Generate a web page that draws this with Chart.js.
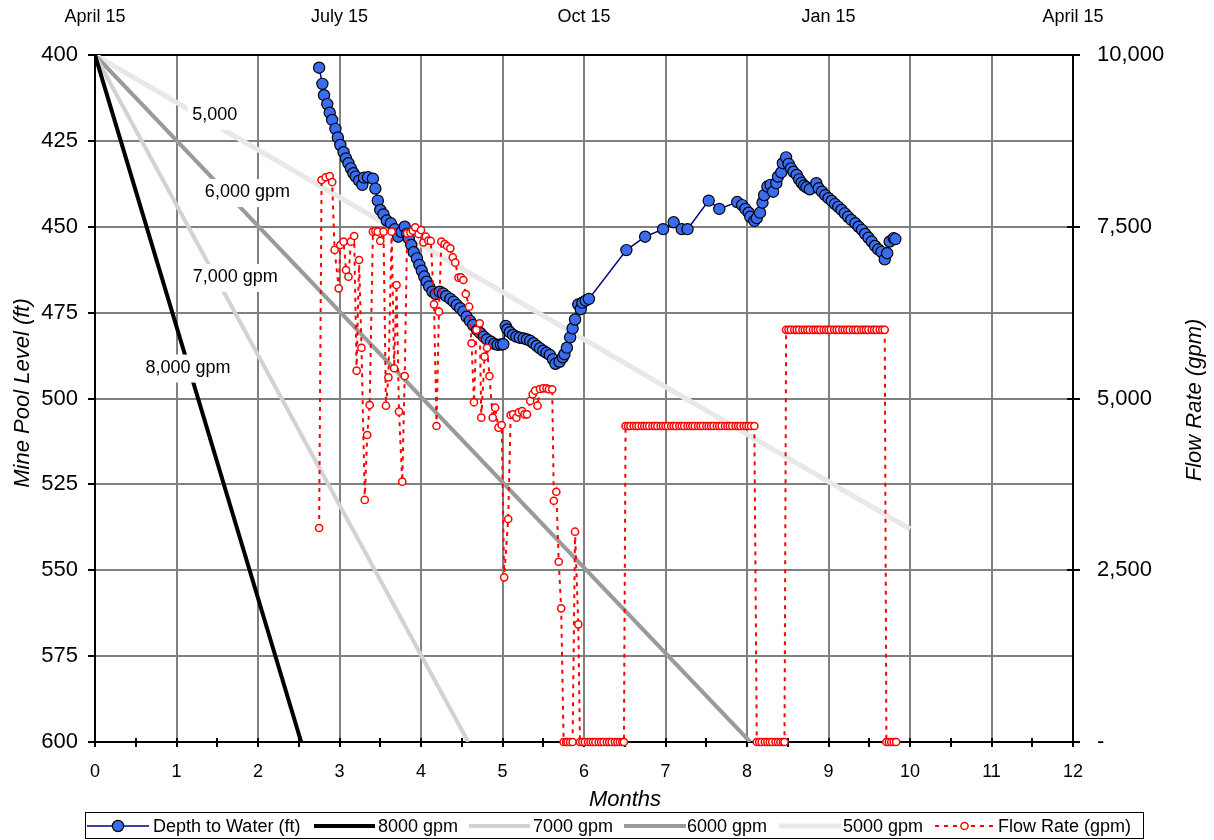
<!DOCTYPE html>
<html>
<head>
<meta charset="utf-8">
<script src="https://cdn.jsdelivr.net/npm/chart.js@4"></script>
<style>
  html, body { margin: 0; padding: 0; background: #fff; }
  canvas { display: block; }
</style>
</head>
<body>
<canvas id="chart" width="1214" height="840"></canvas>
<script>
// ---- Data ----------------------------------------------------------------
// Mine pool level readings: months since April 15, depth (ft)
const depthMonths = [
  2.75, 2.79, 2.81, 2.85, 2.88, 2.91, 2.95, 2.98, 3.01, 3.05,
  3.08, 3.11, 3.14, 3.17, 3.20, 3.24, 3.28, 3.30, 3.35, 3.41,
  3.44, 3.47, 3.50, 3.54, 3.58, 3.63, 3.68, 3.72, 3.76, 3.80,
  3.83, 3.85, 3.88, 3.91, 3.95, 3.98, 4.01, 4.04, 4.07, 4.10,
  4.14, 4.18, 4.23, 4.27, 4.31, 4.36, 4.40, 4.44, 4.48, 4.52,
  4.56, 4.60, 4.64, 4.69, 4.73, 4.77, 4.81, 4.86, 4.90, 4.94,
  4.98, 5.01, 5.04, 5.06, 5.09, 5.13, 5.17, 5.21, 5.26, 5.30,
  5.34, 5.38, 5.42, 5.46, 5.50, 5.54, 5.58, 5.62, 5.65, 5.70,
  5.74, 5.76, 5.79, 5.83, 5.86, 5.89, 5.93, 5.96, 5.98, 6.02,
  6.06, 6.52, 6.75, 6.97, 7.10, 7.20, 7.27, 7.53, 7.66, 7.88,
  7.94, 7.98, 8.02, 8.04, 8.09, 8.12, 8.16, 8.19, 8.21, 8.25,
  8.29, 8.32, 8.36, 8.38, 8.42, 8.44, 8.48, 8.51, 8.54, 8.57,
  8.61, 8.64, 8.67, 8.70, 8.73, 8.77, 8.85, 8.88, 8.92, 8.96,
  9.00, 9.04, 9.08, 9.12, 9.16, 9.20, 9.24, 9.28, 9.33, 9.37,
  9.41, 9.45, 9.49, 9.53, 9.57, 9.61, 9.65, 9.69, 9.72, 9.75,
  9.80, 9.82
];
const depthLevels = [
  403.7, 408.4, 411.7, 414.3, 416.8, 418.9, 421.5, 424.0, 426.2, 428.3,
  430.1, 431.5, 433.0, 434.4, 435.4, 436.6, 437.8, 435.7, 435.6, 436.0,
  438.9, 442.4, 445.1, 446.4, 448.2, 449.0, 450.7, 452.9, 451.5, 450.0,
  452.0, 453.4, 455.3, 457.4, 459.2, 461.1, 462.8, 464.5, 466.0, 467.4,
  468.9, 469.6, 468.9, 469.4, 470.2, 471.0, 471.8, 472.8, 473.7, 474.7,
  476.2, 477.4, 478.6, 480.1, 481.0, 482.0, 482.8, 483.5, 484.1, 484.4,
  484.3, 484.2, 478.9, 479.9, 480.7, 481.5, 482.0, 482.3, 482.5, 482.8,
  483.2, 483.9, 484.7, 485.4, 486.1, 486.7, 487.3, 488.6, 489.9, 489.3,
  488.0, 487.1, 485.2, 482.2, 479.6, 477.0, 472.6, 474.0, 472.1, 471.5,
  471.0, 456.8, 452.9, 450.7, 448.7, 450.7, 450.7, 442.4, 444.8, 442.8,
  443.7, 444.8, 445.9, 447.1, 448.3, 447.5, 445.9, 443.0, 440.8, 438.3,
  437.8, 439.8, 437.3, 435.4, 434.2, 431.5, 429.8, 431.7, 433.0, 434.0,
  434.9, 436.2, 437.2, 438.0, 438.5, 439.1, 437.3, 438.8, 439.8, 440.8,
  441.7, 442.5, 443.4, 444.2, 445.1, 446.1, 447.1, 448.0, 449.0, 450.0,
  450.9, 452.1, 453.2, 454.3, 455.6, 456.6, 457.3, 459.5, 457.7, 454.3,
  453.3, 453.6
];

// Pumping rate readings: months since April 15, flow (gpm)
const flowMonths = [
  2.75, 2.78, 2.83, 2.88, 2.91, 2.94, 2.99, 3.01, 3.05, 3.08,
  3.11, 3.14, 3.18, 3.21, 3.24, 3.27, 3.31, 3.34, 3.37, 3.41,
  3.44, 3.47, 3.50, 3.54, 3.57, 3.60, 3.64, 3.67, 3.70, 3.73,
  3.77, 3.80, 3.83, 3.87, 3.90, 3.93, 3.97, 4.00, 4.03, 4.06,
  4.09, 4.12, 4.16, 4.19, 4.22, 4.25, 4.29, 4.32, 4.36, 4.39,
  4.42, 4.46, 4.49, 4.52, 4.55, 4.59, 4.62, 4.65, 4.68, 4.72,
  4.74, 4.78, 4.81, 4.84, 4.88, 4.91, 4.95, 4.99, 5.02, 5.07,
  5.10, 5.13, 5.17, 5.20, 5.24, 5.27, 5.30, 5.34, 5.37, 5.40,
  5.43, 5.46, 5.50, 5.54, 5.57, 5.61, 5.63, 5.66, 5.69, 5.72,
  5.75, 5.78, 5.80, 5.83, 5.86, 5.89, 5.93, 5.95, 5.98, 6.01,
  6.05, 6.08, 6.11, 6.14, 6.18, 6.21, 6.24, 6.28, 6.31, 6.34,
  6.38, 6.41, 6.44, 6.47, 6.49, 6.51, 6.54, 6.57, 6.61, 6.64,
  6.67, 6.71, 6.74, 6.77, 6.80, 6.84, 6.87, 6.90, 6.94, 6.97,
  7.00, 7.03, 7.07, 7.10, 7.13, 7.17, 7.20, 7.23, 7.27, 7.30,
  7.33, 7.36, 7.40, 7.43, 7.46, 7.50, 7.53, 7.56, 7.59, 7.63,
  7.66, 7.69, 7.73, 7.76, 7.79, 7.82, 7.86, 7.89, 7.92, 7.96,
  7.99, 8.02, 8.05, 8.09, 8.12, 8.15, 8.18, 8.22, 8.25, 8.28,
  8.31, 8.35, 8.38, 8.41, 8.44, 8.46, 8.48, 8.51, 8.54, 8.58,
  8.61, 8.64, 8.68, 8.71, 8.74, 8.77, 8.81, 8.84, 8.87, 8.90,
  8.94, 8.97, 9.00, 9.03, 9.07, 9.10, 9.13, 9.17, 9.20, 9.23,
  9.26, 9.30, 9.33, 9.36, 9.40, 9.43, 9.46, 9.49, 9.53, 9.56,
  9.59, 9.63, 9.66, 9.69, 9.71, 9.74, 9.77, 9.80, 9.83
];
const flowRates = [
  3115, 8180, 8219, 8238, 8151, 7162, 6604, 7234, 7283, 6870,
  6773, 7283, 7365, 5405, 7016, 5739, 3523, 4469, 4905, 7428,
  7438, 7428, 7293, 7428, 4895, 5308, 7428, 5440, 6652, 4808,
  3789, 5327, 7404, 7414, 7443, 7492, 7394, 7452, 7273, 7355,
  7297, 7293, 6371, 4600, 6264, 7283, 7249, 7220, 7186, 7055,
  6977, 6759, 6764, 6725, 6521, 6336, 5804, 4945, 6000, 6094,
  4721, 5609, 5739, 5327, 4721, 4866, 4576, 4614, 2397, 3246,
  4760, 4770, 4721, 4799, 4818, 4770, 4770, 4964, 5061, 5114,
  4895, 5138, 5148, 5148, 5134, 5134, 3512, 3643, 2624, 1946,
  0, 0, 0, 0, 0, 3061, 1713, 0, 0, 0,
  0, 0, 0, 0, 0, 0, 0, 0, 0, 0,
  0, 0, 0, 0, 0, 4600, 4600, 4600, 4600, 4600,
  4600, 4600, 4600, 4600, 4600, 4600, 4600, 4600, 4600, 4600,
  4600, 4600, 4600, 4600, 4600, 4600, 4600, 4600, 4600, 4600,
  4600, 4600, 4600, 4600, 4600, 4600, 4600, 4600, 4600, 4600,
  4600, 4600, 4600, 4600, 4600, 4600, 4600, 4600, 4600, 4600,
  4600, 4600, 4600, 4600, 0, 0, 0, 0, 0, 0,
  0, 0, 0, 0, 0, 0, 6000, 6000, 6000, 6000,
  6000, 6000, 6000, 6000, 6000, 6000, 6000, 6000, 6000, 6000,
  6000, 6000, 6000, 6000, 6000, 6000, 6000, 6000, 6000, 6000,
  6000, 6000, 6000, 6000, 6000, 6000, 6000, 6000, 6000, 6000,
  6000, 6000, 6000, 6000, 0, 0, 0, 0, 0
];

// Drawdown reference lines at constant pumping rates (start and end points)
const rateNames      = ['8000 gpm', '7000 gpm', '6000 gpm', '5000 gpm'];
const rateNotes      = ['8,000 gpm', '7,000 gpm', '6,000 gpm', '5,000'];
const rateStartMonth = 0;
const rateStartLevel = 400;
const rateEndMonths  = [2.53, 4.58, 8.04, 10.0];
const rateEndLevels  = [600, 600, 600, 538];

// Axis labels
const monthTicks   = [0, 1, 2, 3, 4, 5, 6, 7, 8, 9, 10, 11, 12];
const seasonLabels = ['April 15', 'July 15', 'Oct 15', 'Jan 15', 'April 15'];
const levelTicks   = [400, 425, 450, 475, 500, 525, 550, 575, 600];
const flowTicks    = [0, 2500, 5000, 7500, 10000];

// ---- Styling -----------------------------------------------------------
const FONT = "'Liberation Sans', Arial, Helvetica, sans-serif";
const rateColors = ['#000000', '#d2d2d2', '#9a9a9a', '#e8e8e8'];
const rateWidths = [4, 4, 4, 5];
const depthFill = '#3a6cf0';
const depthLine = '#000080';
const flowRed = '#ff0000';

Chart.defaults.font.family = FONT;
Chart.defaults.color = '#000';

const depthPoints = depthMonths.map((m, i) => ({ x: m, y: depthLevels[i] }));
const flowPoints = flowMonths.map((m, i) => ({ x: m, y: flowRates[i] }));

const rateSets = rateNames.map((name, i) => ({
  label: name,
  data: [
    { x: rateStartMonth, y: rateStartLevel },
    { x: rateEndMonths[i], y: rateEndLevels[i] }
  ],
  yAxisID: 'y',
  borderColor: rateColors[i],
  borderWidth: rateWidths[i],
  pointRadius: 0,
  order: 2
}));

// Crossing tick marks on the month axis (every half month) and the flow axis
const axisMarks = {
  id: 'axisMarks',
  beforeDatasetsDraw(chart) {
    const { ctx, chartArea: a } = chart;
    const x = chart.scales.x, y2 = chart.scales.y2;
    ctx.save();
    ctx.strokeStyle = '#000';
    ctx.lineWidth = 2;
    ctx.beginPath();
    for (let k = 0; k <= 24; k++) {
      const px = Math.round(x.getPixelForValue(k / 2));
      ctx.moveTo(px, a.bottom - 4);
      ctx.lineTo(px, a.bottom + 5);
    }
    flowTicks.forEach(v => {
      const py = Math.round(y2.getPixelForValue(v));
      ctx.moveTo(a.right - 6, py);
      ctx.lineTo(a.right + 7, py);
    });
    ctx.stroke();
    ctx.restore();
  }
};

// Boxed captions sitting on the constant-rate lines
const rateCaptions = {
  id: 'rateCaptions',
  anchorMonths: [1.14, 1.72, 1.87, 1.47],
  anchorLevels: [491, 464.6, 439.9, 417.5],
  beforeDatasetDraw(chart, args) {
    if (args.index !== 0) return; // depth series is drawn right after the rate lines
    const { ctx } = chart;
    const x = chart.scales.x, y = chart.scales.y;
    ctx.save();
    ctx.font = '18px ' + FONT;
    ctx.textAlign = 'center';
    ctx.textBaseline = 'middle';
    rateNotes.forEach((txt, i) => {
      const cx = x.getPixelForValue(this.anchorMonths[i]);
      const cy = y.getPixelForValue(this.anchorLevels[i]);
      const w = ctx.measureText(txt).width + 10;
      const h = 28;
      ctx.fillStyle = '#fff';
      ctx.fillRect(cx - w / 2, cy - h / 2 + 1, w, h);
      ctx.fillStyle = '#000';
      ctx.fillText(txt, cx, cy);
    });
    ctx.restore();
  }
};

// Axis titles and the boxed legend along the bottom
const frameText = {
  id: 'frameText',
  afterDraw(chart) {
    const { ctx } = chart;
    ctx.save();
    ctx.fillStyle = '#000';
    ctx.font = 'italic 22px ' + FONT;
    ctx.textAlign = 'center';
    ctx.textBaseline = 'middle';
    ctx.fillText('Months', 625, 800);
    ctx.save();
    ctx.translate(23, 393);
    ctx.rotate(-Math.PI / 2);
    ctx.fillText('Mine Pool Level (ft)', 0, 0);
    ctx.restore();
    ctx.save();
    ctx.translate(1195, 400);
    ctx.rotate(-Math.PI / 2);
    ctx.fillText('Flow Rate (gpm)', 0, 0);
    ctx.restore();

    // legend frame
    const ly = 826;
    ctx.strokeStyle = '#000';
    ctx.lineWidth = 1;
    ctx.strokeRect(85.5, 812.5, 1058, 26);

    const items = [
      { text: 'Depth to Water (ft)', x0: 87,  x1: 149, tx: 153 },
      { text: rateNames[0],           x0: 314, x1: 375, tx: 378 },
      { text: rateNames[1],           x0: 469, x1: 530, tx: 533 },
      { text: rateNames[2],           x0: 624, x1: 686, tx: 687 },
      { text: rateNames[3],           x0: 779, x1: 841, tx: 843 },
      { text: 'Flow Rate (gpm)',      x0: 935, x1: 994, tx: 998 }
    ];
    items.forEach((it, i) => {
      ctx.save();
      ctx.beginPath();
      ctx.moveTo(it.x0, ly);
      ctx.lineTo(it.x1, ly);
      if (i === 0) {
        ctx.strokeStyle = depthLine; ctx.lineWidth = 1.5;
      } else if (i === 5) {
        ctx.strokeStyle = flowRed; ctx.lineWidth = 2; ctx.setLineDash([4, 5]);
      } else {
        ctx.strokeStyle = rateColors[i - 1]; ctx.lineWidth = rateWidths[i - 1];
      }
      ctx.stroke();
      ctx.setLineDash([]);
      const mx = (it.x0 + it.x1) / 2;
      if (i === 0) {
        ctx.beginPath();
        ctx.arc(mx, ly, 5.6, 0, Math.PI * 2);
        ctx.fillStyle = depthFill; ctx.fill();
        ctx.strokeStyle = '#000'; ctx.lineWidth = 1.2; ctx.stroke();
      } else if (i === 5) {
        ctx.beginPath();
        ctx.arc(mx, ly, 3.6, 0, Math.PI * 2);
        ctx.fillStyle = '#fff'; ctx.fill();
        ctx.strokeStyle = flowRed; ctx.lineWidth = 1.5; ctx.stroke();
      }
      ctx.restore();
      ctx.font = '18px ' + FONT;
      ctx.textAlign = 'left';
      ctx.fillStyle = '#000';
      ctx.fillText(it.text, it.tx, ly + 1);
    });
    ctx.restore();
  }
};

new Chart(document.getElementById('chart'), {
  type: 'line',
  data: {
    datasets: [
      {
        label: 'Depth to Water (ft)',
        data: depthPoints,
        yAxisID: 'y',
        borderColor: depthLine,
        borderWidth: 1.5,
        pointRadius: 5.6,
        pointBackgroundColor: depthFill,
        pointBorderColor: '#000',
        pointBorderWidth: 1.2,
        clip: false,
        order: 1
      },
      ...rateSets,
      {
        label: 'Flow Rate (gpm)',
        data: flowPoints,
        yAxisID: 'y2',
        borderColor: flowRed,
        borderWidth: 2,
        borderDash: [4, 5],
        pointRadius: 3.6,
        pointBackgroundColor: '#fff',
        pointBorderColor: flowRed,
        pointBorderWidth: 1.5,
        clip: false,
        order: 0
      }
    ]
  },
  options: {
    responsive: false,
    devicePixelRatio: 1,
    animation: false,
    layout: { padding: 0 },
    elements: { line: { tension: 0 } },
    plugins: { legend: { display: false }, tooltip: { enabled: false } },
    scales: {
      x: {
        type: 'linear', position: 'bottom', min: 0, max: 12,
        afterBuildTicks: s => { s.ticks = monthTicks.map(v => ({ value: v })); },
        ticks: { font: { size: 18 }, color: '#000', padding: 19, maxRotation: 0 },
        grid: {
          color: c => (c.tick && (c.tick.value === 0 || c.tick.value === 12)) ? '#000' : '#808080',
          lineWidth: 2, drawTicks: false
        },
        border: { color: '#000', width: 2 },
        afterFit: s => { s.height = 98; }
      },
      x2: {
        type: 'linear', position: 'top', min: 0, max: 12,
        afterBuildTicks: s => { s.ticks = seasonLabels.map((_, i) => ({ value: i * 3 })); },
        ticks: {
          callback: v => seasonLabels[Math.round(v / 3)],
          font: { size: 18 }, color: '#000', padding: 27, maxRotation: 0
        },
        grid: { display: false, drawTicks: false },
        border: { display: false },
        afterFit: s => { s.height = 55; }
      },
      y: {
        type: 'linear', position: 'left', reverse: true, min: 400, max: 600,
        afterBuildTicks: s => { s.ticks = levelTicks.map(v => ({ value: v })); },
        ticks: { font: { size: 22 }, color: '#000', padding: 10 },
        grid: {
          color: c => (c.tick && c.tick.value === 400) ? '#000' : '#808080',
          lineWidth: 2, tickLength: 7, tickColor: '#000', tickWidth: 2
        },
        border: { color: '#000', width: 2 },
        afterFit: s => { s.width = 95; }
      },
      y2: {
        type: 'linear', position: 'right', min: 0, max: 10000,
        afterBuildTicks: s => { s.ticks = flowTicks.map(v => ({ value: v })); },
        ticks: {
          callback: v => v === 0 ? '-' : v.toLocaleString('en-US'),
          font: { size: 22 }, color: '#000', padding: 24
        },
        grid: { drawOnChartArea: false, drawTicks: false },
        border: { color: '#000', width: 2 },
        afterFit: s => { s.width = 141; }
      }
    }
  },
  plugins: [axisMarks, rateCaptions, frameText]
});
</script>
</body>
</html>
